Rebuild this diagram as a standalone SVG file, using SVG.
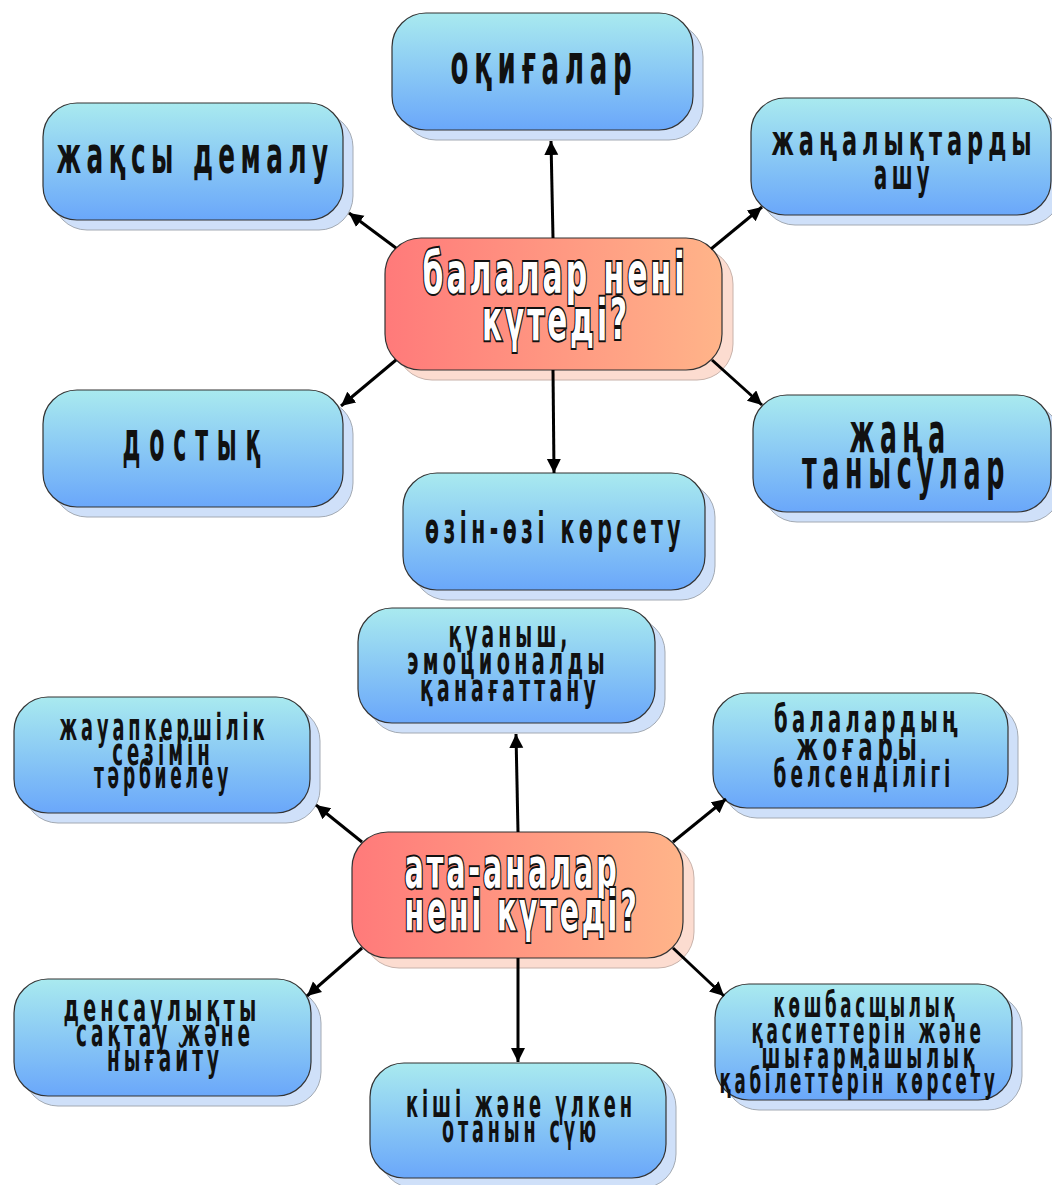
<svg xmlns="http://www.w3.org/2000/svg" width="1052" height="1185" viewBox="0 0 1052 1185">
<defs>
<linearGradient id="gb" x1="0" y1="0" x2="0" y2="1">
<stop offset="0" stop-color="#a9eaef"/>
<stop offset="1" stop-color="#6aa7fa"/>
</linearGradient>
<linearGradient id="gr" x1="0" y1="0" x2="1" y2="0">
<stop offset="0" stop-color="#ff7a7a"/>
<stop offset="1" stop-color="#ffb489"/>
</linearGradient>
<marker id="ah" markerUnits="userSpaceOnUse" markerWidth="16" markerHeight="16" refX="14" refY="7" orient="auto">
<path d="M0,0 L14,7 L0,14 z" fill="#000"/>
</marker>
<style>
.sb{fill:#cfe0f9;stroke:#a3aab3;stroke-width:1}
.bb{fill:url(#gb);stroke:#333;stroke-width:1.2}
.sr{fill:#fcdcd0;stroke:#c8b2aa;stroke-width:1}
.br{fill:url(#gr);stroke:#333;stroke-width:1.2}
.t{font-family:"DejaVu Sans","Liberation Sans",sans-serif;font-weight:bold;fill:#111;text-anchor:middle;letter-spacing:0.22em}
.c{font-family:"DejaVu Sans","Liberation Sans",sans-serif;font-weight:bold;fill:#fff;stroke:#111;stroke-width:4;paint-order:stroke;text-anchor:middle;letter-spacing:0.1em}
.ln{stroke:#000;stroke-width:3;fill:none;marker-end:url(#ah)}
</style>
</defs>
<rect width="1052" height="1185" fill="#fff"/>

<g id="n1">
<rect class="sb" x="402" y="23" width="301" height="117" rx="34"/>
<rect class="bb" x="392" y="13" width="301" height="117" rx="34"/>
<text class="t" transform="translate(544,83) scale(0.55,1)" font-size="55" textLength="340" lengthAdjust="spacingAndGlyphs">оқиғалар</text>
</g>

<g id="n2">
<rect class="sb" x="53" y="113" width="300" height="117" rx="34"/>
<rect class="bb" x="43" y="103" width="300" height="117" rx="34"/>
<text class="t" transform="translate(195,173) scale(0.55,1)" font-size="51" textLength="504" lengthAdjust="spacingAndGlyphs">жақсы демалу</text>
</g>

<g id="n3">
<rect class="sb" x="761" y="108" width="300" height="117" rx="34"/>
<rect class="bb" x="751" y="98" width="300" height="117" rx="34"/>
<text class="t" transform="translate(904,155) scale(0.55,1)" font-size="42" textLength="482" lengthAdjust="spacingAndGlyphs">жаңалықтарды</text>
<text class="t" transform="translate(904,189) scale(0.55,1)" font-size="42" textLength="109" lengthAdjust="spacingAndGlyphs">ашу</text>
</g>

<g id="n4">
<rect class="sr" x="396" y="248" width="337" height="132" rx="36"/>
<rect class="br" x="385" y="238" width="337" height="132" rx="36"/>
<text class="c" transform="translate(555,293) scale(0.5,1)" font-size="57" textLength="530" lengthAdjust="spacingAndGlyphs">балалар нені</text>
<text class="c" transform="translate(556,340) scale(0.5,1)" font-size="57" textLength="296" lengthAdjust="spacingAndGlyphs">күтеді?</text>
</g>

<g id="n5">
<rect class="sb" x="53" y="400" width="300" height="117" rx="34"/>
<rect class="bb" x="43" y="390" width="300" height="117" rx="34"/>
<text class="t" transform="translate(196,460) scale(0.55,1)" font-size="55" textLength="267" lengthAdjust="spacingAndGlyphs" style="letter-spacing:0.4em">достық</text>
</g>

<g id="n6">
<rect class="sb" x="763" y="405" width="298" height="117" rx="34"/>
<rect class="bb" x="753" y="395" width="298" height="117" rx="34"/>
<text class="t" transform="translate(900,452) scale(0.55,1)" font-size="55" textLength="184" lengthAdjust="spacingAndGlyphs">жаңа</text>
<text class="t" transform="translate(906,488) scale(0.55,1)" font-size="55" textLength="378" lengthAdjust="spacingAndGlyphs">танысулар</text>
</g>

<g id="n7">
<rect class="sb" x="413" y="483" width="302" height="117" rx="34"/>
<rect class="bb" x="403" y="473" width="302" height="117" rx="34"/>
<text class="t" transform="translate(555,543) scale(0.55,1)" font-size="42" textLength="473" lengthAdjust="spacingAndGlyphs">өзін-өзі көрсету</text>
</g>

<g id="n8">
<rect class="sb" x="368" y="618" width="297" height="115" rx="34"/>
<rect class="bb" x="358" y="608" width="297" height="115" rx="34"/>
<text class="t" transform="translate(510,647) scale(0.55,1)" font-size="37" textLength="224" lengthAdjust="spacingAndGlyphs">қуаныш,</text>
<text class="t" transform="translate(508,674) scale(0.55,1)" font-size="37" textLength="367" lengthAdjust="spacingAndGlyphs">эмоционалды</text>
<text class="t" transform="translate(510,701) scale(0.55,1)" font-size="37" textLength="327" lengthAdjust="spacingAndGlyphs">қанағаттану</text>
</g>

<g id="n9">
<rect class="sb" x="24" y="707" width="296" height="116" rx="34"/>
<rect class="bb" x="14" y="697" width="296" height="116" rx="34"/>
<text class="t" transform="translate(164,740) scale(0.55,1)" font-size="38" textLength="380" lengthAdjust="spacingAndGlyphs">жауапкершілік</text>
<text class="t" transform="translate(163,765) scale(0.55,1)" font-size="38" textLength="185" lengthAdjust="spacingAndGlyphs">сезімін</text>
<text class="t" transform="translate(163,788) scale(0.55,1)" font-size="38" textLength="251" lengthAdjust="spacingAndGlyphs">тәрбиелеу</text>
</g>

<g id="n10">
<rect class="sb" x="723" y="703" width="295" height="115" rx="34"/>
<rect class="bb" x="713" y="693" width="295" height="115" rx="34"/>
<text class="t" transform="translate(868,732) scale(0.55,1)" font-size="37" textLength="342" lengthAdjust="spacingAndGlyphs">балалардың</text>
<text class="t" transform="translate(859,760) scale(0.55,1)" font-size="37" textLength="227" lengthAdjust="spacingAndGlyphs">жоғары</text>
<text class="t" transform="translate(864,787) scale(0.55,1)" font-size="37" textLength="329" lengthAdjust="spacingAndGlyphs">белсенділігі</text>
</g>

<g id="n11">
<rect class="sr" x="363" y="842" width="331" height="126" rx="36"/>
<rect class="br" x="352" y="832" width="331" height="126" rx="36"/>
<text class="c" transform="translate(512,887) scale(0.5,1)" font-size="55" textLength="430" lengthAdjust="spacingAndGlyphs">ата-аналар</text>
<text class="c" transform="translate(522,930) scale(0.5,1)" font-size="55" textLength="470" lengthAdjust="spacingAndGlyphs">нені күтеді?</text>
</g>

<g id="n12">
<rect class="sb" x="24" y="989" width="297" height="117" rx="34"/>
<rect class="bb" x="14" y="979" width="297" height="117" rx="34"/>
<text class="t" transform="translate(162,1021) scale(0.55,1)" font-size="37" textLength="358" lengthAdjust="spacingAndGlyphs">денсаулықты</text>
<text class="t" transform="translate(165,1046) scale(0.55,1)" font-size="37" textLength="324" lengthAdjust="spacingAndGlyphs">сақтау және</text>
<text class="t" transform="translate(165,1071) scale(0.55,1)" font-size="37" textLength="211" lengthAdjust="spacingAndGlyphs">нығайту</text>
</g>

<g id="n13">
<rect class="sb" x="725" y="994" width="297" height="116" rx="34"/>
<rect class="bb" x="715" y="984" width="297" height="116" rx="34"/>
<text class="t" transform="translate(866,1017) scale(0.55,1)" font-size="35" textLength="336" lengthAdjust="spacingAndGlyphs">көшбасшылық</text>
<text class="t" transform="translate(868,1043) scale(0.55,1)" font-size="35" textLength="424" lengthAdjust="spacingAndGlyphs">қасиеттерін және</text>
<text class="t" transform="translate(870,1068) scale(0.55,1)" font-size="35" textLength="395" lengthAdjust="spacingAndGlyphs">шығармашылық</text>
<text class="t" transform="translate(859,1093) scale(0.55,1)" font-size="35" textLength="507" lengthAdjust="spacingAndGlyphs">қабілеттерін көрсету</text>
</g>

<g id="n14">
<rect class="sb" x="380" y="1073" width="296" height="115" rx="34"/>
<rect class="bb" x="370" y="1063" width="296" height="115" rx="34"/>
<text class="t" transform="translate(521,1117) scale(0.55,1)" font-size="37" textLength="418" lengthAdjust="spacingAndGlyphs">кіші және үлкен</text>
<text class="t" transform="translate(521,1142) scale(0.55,1)" font-size="37" textLength="287" lengthAdjust="spacingAndGlyphs">отанын сүю</text>
</g>

<g id="connectors">
<line class="ln" x1="553" y1="238" x2="551" y2="141"/>
<line class="ln" x1="396" y1="248" x2="349" y2="213"/>
<line class="ln" x1="711" y1="249" x2="762" y2="207"/>
<line class="ln" x1="396" y1="360" x2="341" y2="406"/>
<line class="ln" x1="712" y1="360" x2="762" y2="405"/>
<line class="ln" x1="553" y1="370" x2="554" y2="473"/>
<line class="ln" x1="518" y1="832" x2="516" y2="734"/>
<line class="ln" x1="362" y1="842" x2="316" y2="805"/>
<line class="ln" x1="673" y1="842" x2="726" y2="799"/>
<line class="ln" x1="362" y1="948" x2="307" y2="996"/>
<line class="ln" x1="673" y1="948" x2="724" y2="996"/>
<line class="ln" x1="518" y1="958" x2="518" y2="1062"/>
</g>
</svg>
